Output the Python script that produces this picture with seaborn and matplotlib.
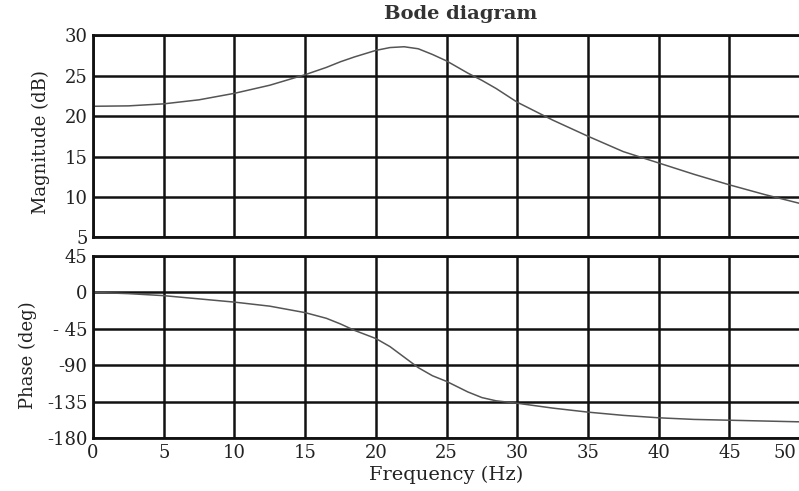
import numpy as np
import pandas as pd
import matplotlib
matplotlib.use("Agg")
import matplotlib.pyplot as plt
import matplotlib.transforms as mtransforms
import seaborn as sns

# values
mag_freq = [0, 2.5, 5, 7.5, 10, 12.5, 15, 16.5, 17.5, 18.5, 20, 21, 22, 23, 24,
            25, 26.5, 27.5, 28.5, 30, 32.5, 35, 37.5, 40, 42.5, 45, 47.5, 50]
magnitude = [21.2, 21.25, 21.5, 22.0, 22.8, 23.8, 25.1, 26.0, 26.7, 27.3, 28.1,
             28.45, 28.55, 28.3, 27.6, 26.8, 25.3, 24.4, 23.4, 21.7, 19.5, 17.5,
             15.6, 14.2, 12.8, 11.5, 10.3, 9.2]

phase_freq = [0, 2.5, 5, 7.5, 10, 12.5, 15, 16.5, 17.5, 18.5, 20, 21, 22, 23, 24,
              25, 26.5, 27.5, 28.5, 30, 32.5, 35, 37.5, 40, 42.5, 45, 47.5, 50]
phase = [0, -1.5, -4, -8, -12, -17, -25, -32, -39, -47, -57, -67, -80, -93, -103,
         -110, -123, -130, -134, -137, -143, -148, -152, -155, -157, -158, -159, -160]

freq_ticks = list(range(0, 55, 5))
mag_ticks = [5, 10, 15, 20, 25, 30]
phase_ticks = [45, 0, -45, -90, -135, -180]
phase_labels = ["45", "0", "- 45", "-90", "-135", "-180"]

mag_df = pd.DataFrame({"freq": mag_freq, "magnitude": magnitude})
phase_df = pd.DataFrame({"freq": phase_freq, "phase": phase})

sns.set_style("white")
plt.rcParams["font.family"] = ["DejaVu Serif", "Liberation Serif"]

fig = plt.figure(figsize=(7.99, 4.91), dpi=100)
ax1 = fig.add_axes([0.1164, 0.5163, 0.885, 0.4124])
ax2 = fig.add_axes([0.1164, 0.1079, 0.885, 0.3707])

sns.lineplot(data=mag_df, x="freq", y="magnitude", ax=ax1, color="#555555", lw=1.1)
sns.lineplot(data=phase_df, x="freq", y="phase", ax=ax2, color="#555555", lw=1.1)

for ax in (ax1, ax2):
    ax.set_xlim(0, 50)
    ax.set_xticks(freq_ticks)
    ax.grid(True, color="#111111", lw=1.8)
    ax.set_axisbelow(True)
    for s in ax.spines.values():
        s.set_color("#111111")
        s.set_linewidth(2)
    ax.tick_params(length=0, pad=4, labelsize=13, colors="#222222")

ax1.set_ylim(5, 30)
ax1.set_yticks(mag_ticks)
ax1.set_xticklabels([])
ax1.set_xlabel("")
ax1.set_ylabel("Magnitude (dB)", fontsize=13, color="#222222")
ax1.yaxis.set_label_coords(-0.061, 0.47)

ax2.set_ylim(-180, 45)
ax2.set_yticks(phase_ticks)
ax2.set_yticklabels(phase_labels)
ax2.set_xticklabels([str(t) for t in freq_ticks])
ax2.set_xlabel("Frequency (Hz)", fontsize=14, color="#222222", labelpad=3)
ax2.set_ylabel("Phase (deg)", fontsize=13, color="#222222")
ax2.yaxis.set_label_coords(-0.079, 0.456)

# the last tick label sits at the figure edge; nudge it left so it stays visible
last = ax2.get_xticklabels()[-1]
last.set_transform(last.get_transform()
                   + mtransforms.ScaledTranslation(-0.15, 0, fig.dpi_scale_trans))

fig.text(0.576, 0.971, "Bode diagram", ha="center", va="center",
         fontsize=14, fontweight="bold", color="#333333")

fig.savefig("out.png", dpi=100)
